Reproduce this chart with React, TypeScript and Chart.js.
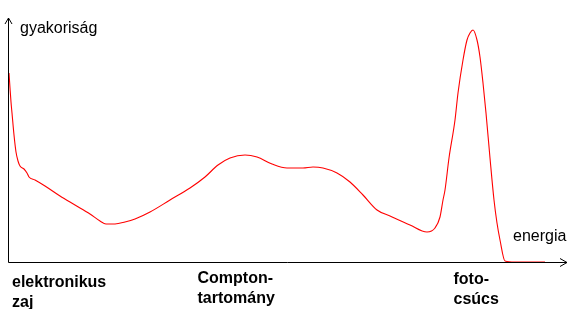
import React, { useEffect, useRef } from "react";
import { Chart, registerables } from "chart.js";

Chart.register(...registerables);

// energy (arbitrary units) and frequency (arbitrary units)
const energy = [0, 1, 2, 3, 5, 7, 9, 11, 15, 18, 20, 26, 36, 51, 66, 81, 91, 97, 106, 116, 126, 141, 161, 181, 196, 209, 221, 236, 248, 263, 278, 294, 304, 314, 328, 341, 354, 368, 381, 401, 418, 426, 431, 434, 436, 440, 446, 449, 454, 458, 461, 464, 468, 471, 474, 477, 481, 485, 488, 491, 496, 506, 536];
const frequency = [189, 174, 160, 149, 127, 110, 101, 96, 93, 89, 85, 82, 76, 66, 57, 48, 41, 38, 38, 40, 43, 50, 62, 74, 85, 97, 104, 107, 105, 98, 94, 94, 95, 94, 89, 80, 67, 52, 46, 37, 30, 34, 45, 62, 72, 104, 142, 169, 202, 222, 229, 232, 222, 205, 179, 149, 104, 62, 39, 22, 1, 0, 0];

const yAxisTitle = "gyakoriság";
const xAxisTitle = "energia";
const regionLabels = [
  { at: 3, lines: ["elektronikus", "zaj"], base: 286.5 },
  { at: 188.5, lines: ["Compton-", "tartomány"], base: 282.5 },
  { at: 444.5, lines: ["foto-", "csúcs"], base: 283.5 },
];

const annotate = {
  id: "annotate",
  afterDraw(chart: any) {
    const { ctx, chartArea, scales } = chart;
    const x0 = scales.x.getPixelForValue(0);
    const y0 = scales.y.getPixelForValue(0);
    ctx.save();
    ctx.strokeStyle = "#000";
    ctx.lineWidth = 1;
    ctx.beginPath();
    // y axis
    ctx.moveTo(x0 - 0.5, y0 + 0.5);
    ctx.lineTo(x0 - 0.5, chartArea.top);
    ctx.moveTo(x0 - 4, chartArea.top + 6);
    ctx.lineTo(x0 - 0.5, chartArea.top);
    ctx.lineTo(x0 + 3, chartArea.top + 6);
    // x axis
    ctx.moveTo(x0 - 0.5, y0 + 0.5);
    ctx.lineTo(chartArea.right - 2, y0 + 0.5);
    ctx.moveTo(chartArea.right - 9, y0 - 3.5);
    ctx.lineTo(chartArea.right - 2, y0 + 0.5);
    ctx.lineTo(chartArea.right - 9, y0 + 4.5);
    ctx.stroke();

    ctx.fillStyle = "#000";
    ctx.textBaseline = "alphabetic";
    ctx.textAlign = "left";
    ctx.font = "16px 'Liberation Sans', Arial, sans-serif";
    ctx.fillText(yAxisTitle, x0 + 11, chartArea.top + 15);
    ctx.fillText(xAxisTitle, chartArea.right - 56, y0 - 21);

    ctx.font = "bold 16px 'Liberation Sans', Arial, sans-serif";
    for (const lab of regionLabels) {
      const px = scales.x.getPixelForValue(lab.at);
      lab.lines.forEach((t, i) => ctx.fillText(t, px, lab.base + i * 20));
    }
    ctx.restore();
  },
};

export default function App() {
  const ref = useRef<HTMLCanvasElement>(null);
  useEffect(() => {
    const chart = new Chart(ref.current!, {
      type: "line",
      data: {
        datasets: [
          {
            data: energy.map((e, i) => ({ x: e, y: frequency[i] })),
            borderColor: "#ff0000",
            borderWidth: 1.1,
            pointRadius: 0,
            cubicInterpolationMode: "monotone",
            fill: false,
          },
        ],
      },
      options: {
        animation: false,
        responsive: false,
        layout: { padding: { left: 9, right: 10, top: 18, bottom: 47 } },
        plugins: { legend: { display: false }, tooltip: { enabled: false } },
        scales: {
          x: { type: "linear", min: 0, max: 560, display: false },
          y: { min: 0, max: 244, display: false },
        },
      },
      plugins: [annotate],
    });
    return () => chart.destroy();
  }, []);
  return (
    <div style={{ position: "fixed", left: 0, top: 0, width: 579, height: 309, background: "#fff" }}>
      <canvas ref={ref} width={579} height={309} style={{ width: 579, height: 309 }} />
    </div>
  );
}
